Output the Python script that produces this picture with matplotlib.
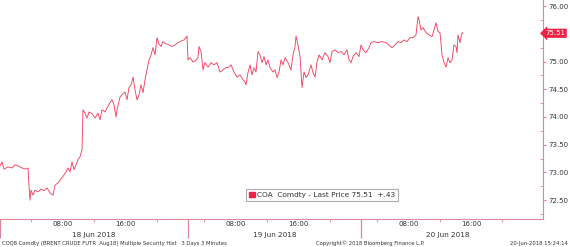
import matplotlib
matplotlib.use("Agg")
import matplotlib.pyplot as plt
from matplotlib.patches import Patch
from matplotlib.ticker import FixedLocator, MultipleLocator

# trading hours since the open on 18 Jun (overnight breaks removed)
t_hours = [
    0.00, 0.25, 0.51, 1.02, 1.53, 1.91, 2.29, 2.80, 3.31, 3.57, 3.69, 3.82, 3.95, 4.20, 4.46,
    4.84, 5.22, 5.61, 5.99, 6.37, 6.75, 7.01, 7.39, 7.64, 8.03, 8.41, 8.66, 8.92, 9.17, 9.43,
    9.68, 9.94, 10.19, 10.45, 10.57, 10.83, 11.08, 11.34, 11.72, 12.10, 12.48, 12.74, 12.99,
    13.38, 13.63, 14.01, 14.27, 14.52, 14.78, 14.90, 15.29, 15.67, 15.92, 16.18, 16.43, 16.69,
    16.94, 17.20, 17.45, 17.71, 17.96, 18.22, 18.47, 18.73, 18.98, 19.24, 19.49, 19.75, 20.00,
    20.25, 20.51, 20.76, 21.15, 21.53, 21.91, 22.29, 22.68, 23.06, 23.44, 23.82,
    23.95, 24.20, 24.59, 24.97, 25.22, 25.35, 25.61, 25.86, 26.11, 26.50, 26.88, 27.26, 27.64,
    28.03, 28.41, 28.79, 29.17, 29.43, 29.81, 30.19, 30.57, 30.96, 31.21, 31.34, 31.59, 31.85,
    32.10, 32.36, 32.61, 32.87, 33.12, 33.38, 33.63, 33.89, 34.14, 34.39, 34.78, 35.03, 35.29,
    35.54, 35.80, 36.05, 36.31, 36.69, 37.07, 37.32, 37.58, 37.71, 37.96, 38.22, 38.47, 38.73,
    38.98, 39.24, 39.62, 39.87, 40.13, 40.38, 40.64, 41.02, 41.40, 41.78, 42.04, 42.29, 42.68,
    43.06, 43.44, 43.82, 44.20, 44.46, 44.71, 44.97, 45.35, 45.73,
    45.99, 46.24, 46.62, 47.01, 47.26, 47.64, 48.15, 48.66, 49.17, 49.55, 49.94, 50.32, 50.70,
    51.08, 51.46, 51.85, 52.23, 52.61, 52.99, 53.25, 53.38, 53.63, 53.89, 54.27, 54.65, 55.03,
    55.29, 55.54, 55.80, 56.05, 56.31, 56.56, 56.82, 57.07, 57.32, 57.58, 57.83, 58.09, 58.22,
    58.34, 58.60, 58.85, 58.98,
]
price = [
    73.12, 73.19, 73.06, 73.10, 73.08, 73.14, 73.12, 73.08, 73.06, 73.08, 72.77, 72.50, 72.68, 72.59, 72.68,
    72.65, 72.70, 72.67, 72.72, 72.63, 72.59, 72.77, 72.81, 72.86, 72.93, 73.01, 73.08, 73.01, 73.19, 73.05,
    73.14, 73.23, 73.28, 73.41, 74.13, 74.07, 73.98, 74.09, 74.06, 73.98, 74.07, 73.95, 74.13,
    74.09, 74.16, 74.26, 74.31, 74.22, 74.00, 74.13, 74.36, 74.42, 74.45, 74.31, 74.53, 74.58,
    74.72, 74.49, 74.31, 74.40, 74.58, 74.44, 74.67, 74.85, 75.03, 75.12, 75.25, 75.12, 75.43,
    75.32, 75.27, 75.36, 75.32, 75.30, 75.27, 75.30, 75.34, 75.37, 75.39, 75.46,
    75.03, 75.07, 74.99, 75.03, 75.07, 75.27, 75.18, 74.85, 74.98, 74.90, 74.98, 74.94, 74.98,
    74.81, 74.85, 74.89, 74.90, 74.94, 74.81, 74.72, 74.76, 74.67, 74.63, 74.58, 74.80, 74.94,
    74.76, 74.89, 74.81, 75.18, 75.12, 74.98, 75.09, 74.94, 75.03, 74.89, 74.81, 74.85, 74.71,
    74.81, 75.03, 74.94, 75.07, 74.98, 74.85, 75.12, 75.27, 75.46, 75.30, 75.09, 74.53, 74.81,
    74.71, 74.76, 74.94, 74.80, 74.72, 74.99, 75.12, 75.03, 75.16, 75.09, 74.98, 75.18, 75.21,
    75.16, 75.18, 75.12, 75.21, 75.03, 74.98, 75.09, 75.16, 75.09,
    75.30, 75.21, 75.16, 75.25, 75.34, 75.36, 75.34, 75.36, 75.34, 75.30, 75.25, 75.30, 75.36,
    75.34, 75.39, 75.36, 75.43, 75.43, 75.48, 75.81, 75.75, 75.57, 75.61, 75.52, 75.48, 75.45,
    75.57, 75.70, 75.54, 75.52, 75.12, 74.98, 74.90, 75.07, 74.98, 75.03, 75.30, 75.27, 75.16,
    75.48, 75.34, 75.52, 75.51,
]

day_labels = ["18 Jun 2018", "19 Jun 2018", "20 Jun 2018"]
day_start = [0, 24, 46]        # trading-hour position where each day begins
day_open_clock = [0, 2, 2]     # clock hour of that position
day_end = [24, 46, 68]
clock_labels = [8, 16]
clock_minor = [4, 12, 20]

last_price = 75.51
ticker_legend = "COA  Comdty - Last Price 75.51  +.43"

line_red = "#f2445f"
axis_pink = "#d9899a"
tag_red = "#ee2244"
text_col = "#333333"

fig = plt.figure(figsize=(5.70, 2.47), dpi=100)
ax = fig.add_axes([0.0, 28 / 247, 543 / 570, 219 / 247])

ax.plot(t_hours, price, color=line_red, lw=0.65)

ax.set_xlim(0, 69.17)
ax.set_ylim(72.16, 76.11)

for side in ["left", "top"]:
    ax.spines[side].set_visible(False)
for side in ["right", "bottom"]:
    ax.spines[side].set_color(axis_pink)
    ax.spines[side].set_linewidth(0.8)

# y axis on the right; the label under the last-price tag is left out
ax.yaxis.tick_right()
ax.yaxis.set_major_locator(MultipleLocator(0.5))
ax.yaxis.set_minor_locator(MultipleLocator(0.25))
ax.yaxis.set_major_formatter(lambda v, p: "" if abs(v - last_price) < 0.1 else f"{v:.2f}")
ax.tick_params(axis="y", which="major", direction="out", length=2, width=0.8,
               color=axis_pink, labelsize=5, labelcolor=text_col, pad=2)
ax.tick_params(axis="y", which="minor", direction="in", length=2, width=0.6, color=axis_pink)

# x axis: clock labels per trading day
major_pos, major_lab, minor_pos = [], [], []
for s, o in zip(day_start, day_open_clock):
    for c in clock_labels:
        major_pos.append(s + c - o)
        major_lab.append(f"{c:02d}:00")
    for c in clock_minor:
        minor_pos.append(s + c - o)
ax.xaxis.set_major_locator(FixedLocator(major_pos))
ax.set_xticklabels(major_lab)
ax.xaxis.set_minor_locator(FixedLocator(minor_pos))
ax.tick_params(axis="x", which="major", length=0, labelsize=5, labelcolor=text_col, pad=1.5)
ax.tick_params(axis="x", which="minor", direction="out", length=2, width=0.6, color=axis_pink)

xt = ax.get_xaxis_transform()
ax.vlines(day_start, -0.088, 0, transform=xt, color=axis_pink, lw=0.9, clip_on=False)
for s, e, lab in zip(day_start, day_end, day_labels):
    ax.text((s + e) / 2, -0.058, lab, transform=xt, ha="center", va="top",
            fontsize=5.2, color=text_col)

# last price tag
yt = ax.get_yaxis_transform()
ax.text(1.004, last_price, f"{last_price:.2f}", transform=yt, ha="left", va="center",
        fontsize=5, color="white",
        bbox=dict(boxstyle="larrow,pad=0.18", fc=tag_red, ec=tag_red, lw=0.5))

# legend box
leg = ax.legend(handles=[Patch(facecolor=tag_red, edgecolor=tag_red)], labels=[ticker_legend],
                loc="center", bbox_to_anchor=(322 / 543, 1 - 195 / 219),
                fontsize=5.3, frameon=True, fancybox=False, handlelength=0.8, handleheight=0.8,
                handletextpad=0.3, borderpad=0.45, borderaxespad=0)
leg.get_frame().set_edgecolor("#9a9a9a")
leg.get_frame().set_linewidth(0.8)
for t in leg.get_texts():
    t.set_color(text_col)

# footer
fig.text(2 / 570, 4 / 247, "COQ8 Comdty (BRENT CRUDE FUTR  Aug18) Multiple Security Hist   3 Days 3 Minutes",
         fontsize=3.8, color=text_col, ha="left", va="center")
fig.text(370 / 570, 4 / 247, "Copyright\u00a9 2018 Bloomberg Finance L.P.",
         fontsize=3.8, color=text_col, ha="center", va="center")
fig.text(568 / 570, 4 / 247, "20-Jun-2018 15:24:14",
         fontsize=3.8, color=text_col, ha="right", va="center")

fig.savefig("out.png", dpi=100, facecolor="white")
